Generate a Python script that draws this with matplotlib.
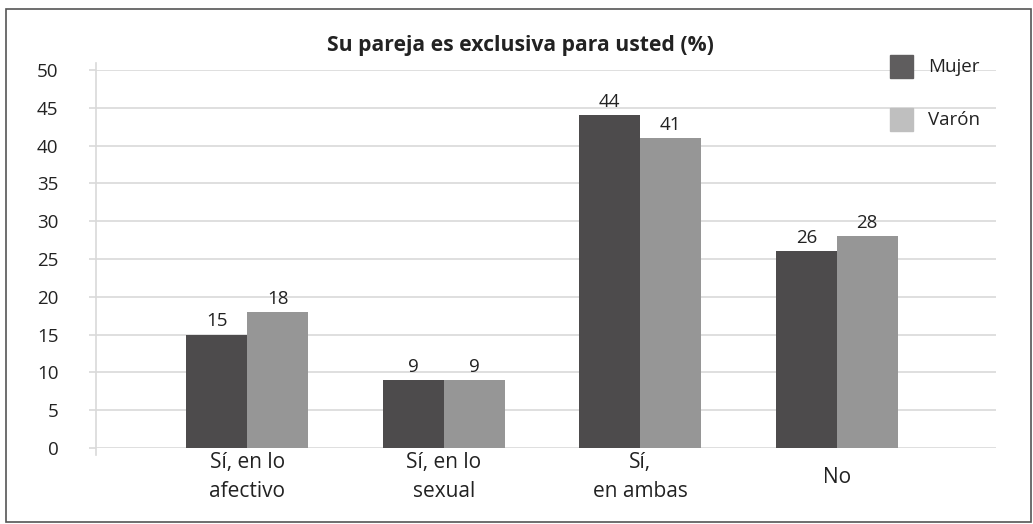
import matplotlib
matplotlib.use("Agg")
import matplotlib.pyplot as plt
from matplotlib.patches import Rectangle
from matplotlib.lines import Line2D
import numpy as np

categories = ["Sí, en lo\nafectivo", "Sí, en lo\nsexual", "Sí,\nen ambas", "No"]
mujer = [15, 9, 44, 26]
varon = [18, 9, 41, 28]
series_names = ["Mujer", "Varón"]
yticks = [0, 5, 10, 15, 20, 25, 30, 35, 40, 45, 50]
title = "Su pareja es exclusiva para usted (%)"

plt.rcParams['font.family'] = ['Open Sans', 'DejaVu Sans']

W, H = 1033, 524
fig = plt.figure(figsize=(W / 100, H / 100), dpi=100)

def fx(px):
    return px / W

def fy(py):
    return 1 - py / H

ax = fig.add_axes([fx(96), fy(448), fx(996) - fx(96), fy(70) - fy(448)])

x = np.arange(len(categories))
bw = 0.31
c_m = "#4d4b4c"
c_v = "#969696"
b1 = ax.bar(x - bw / 2, mujer, bw, color=c_m, zorder=3)
b2 = ax.bar(x + bw / 2, varon, bw, color=c_v, zorder=3)

for bars, vals in ((b1, mujer), (b2, varon)):
    for b, v in zip(bars, vals):
        ax.annotate(str(v), (b.get_x() + b.get_width() / 2, v),
                    xytext=(0, 3), textcoords="offset points",
                    ha="center", va="bottom", fontsize=13.5, color="#222222")

ax.set_xlim(-0.77, 3.81)
ax.set_ylim(0, 50)
ax.set_yticks(yticks)
ax.set_yticklabels([str(t) for t in yticks], fontsize=13.5, color="#222222")
ax.grid(axis="y", color="#d9d9d9", linewidth=1.2, zorder=0)
ax.tick_params(axis="y", length=5, color="#d9d9d9", width=1.2, pad=22)
ax.set_xticks([])
for s in ax.spines.values():
    s.set_visible(False)

# left axis line extends slightly beyond range
ax.add_line(Line2D([0, 0], [-0.0185, 1.0185], transform=ax.transAxes,
                   color="#d9d9d9", linewidth=1.2, clip_on=False, zorder=1))

for xi, lab in zip(x, categories):
    ax.text(xi, -3.85, lab, ha="center", va="center", fontsize=15,
            color="#222222", linespacing=1.5,
            transform=ax.transData, clip_on=False)

fig.text(fx(520), fy(46), title, ha="center", va="center",
         fontsize=15.2, fontweight="bold", color="#222222")

# legend
leg_colors = ["#5f5d5e", "#bfbfbf"]
for i, (name, col) in enumerate(zip(series_names, leg_colors)):
    y0 = 55 + i * 53
    fig.patches.append(Rectangle((fx(890), fy(y0 + 23)), fx(23), fy(y0) - fy(y0 + 23),
                                 transform=fig.transFigure, color=col))
    fig.text(fx(928), fy(y0 + 12), name, ha="left", va="center",
             fontsize=13.5, color="#222222")

# outer border
fig.patches.append(Rectangle((fx(6), fy(522)), fx(1031) - fx(6), fy(9) - fy(522),
                             transform=fig.transFigure, fill=False,
                             edgecolor="#555555", linewidth=1.2))

fig.savefig("out.png", dpi=100)
